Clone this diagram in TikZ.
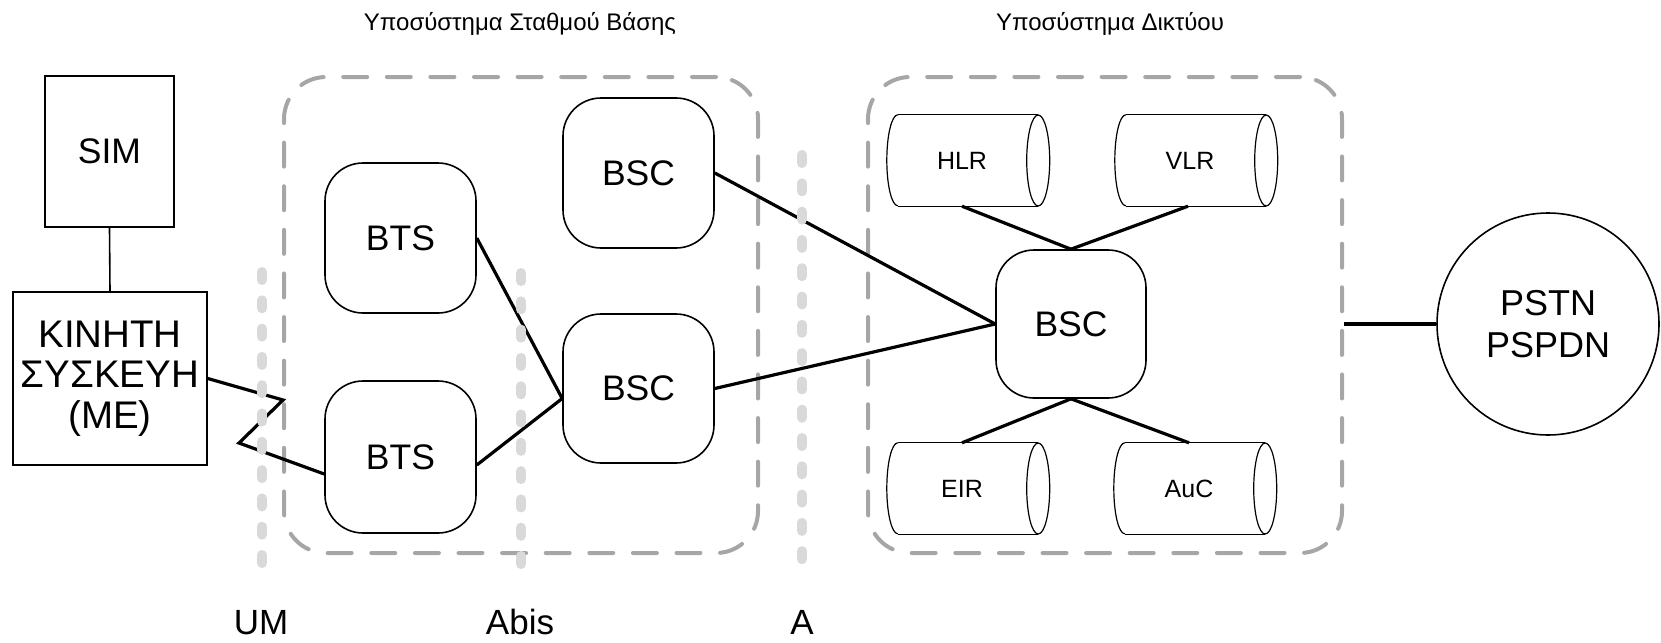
\documentclass[tikz,border=0pt]{standalone}
\usepackage{fontspec}
\setmainfont{Liberation Sans}
\usetikzlibrary{calc}
\definecolor{dashgray}{HTML}{A6A6A6}
\definecolor{dotgray}{HTML}{D9D9D9}
\begin{document}
\begin{tikzpicture}[x=1pt,y=1pt,
  big/.style={font=\fontsize{35.5}{40}\selectfont},
  sq/.style={draw,line width=1.6pt,inner sep=0pt,align=center,big},
  rbox/.style={draw,line width=1.6pt,rounded corners=38pt,minimum width=151pt,minimum height=150pt,inner sep=0pt,big},
  grp/.style={draw=dashgray,line width=4pt,dash pattern=on 24pt off 19.6pt,line cap=round,rounded corners=42pt,minimum width=474pt,minimum height=476pt,inner sep=0pt},
  iface/.style={draw=dotgray,line width=9.5pt,line cap=round,dash pattern=on 8.5pt off 19.8pt},
  conn/.style={line width=3.2pt},
  cyl/.style={inner sep=0pt,minimum width=140pt,minimum height=91pt,font=\fontsize{25}{28}\selectfont},
  cylline/.style={line width=1.2pt},
  title/.style={font=\fontsize{24}{28}\selectfont,anchor=base},
  lbl/.style={font=\fontsize{35}{40}\selectfont,anchor=base}
]
\useasboundingbox (0,0) rectangle (1661,-642);

% group boxes
\node[grp] (bss) at (521,-315) {};
\node[grp] (nss) at (1105,-315) {};
\node[title] (tbss) at (520,-31) {Υποσύστημα Σταθμού Βάσης};
\node[title] (tnss) at (1110,-31) {Υποσύστημα Δικτύου};

% mobile station
\node[sq,minimum width=129pt,minimum height=151pt] (sim) at (109.5,-151.5) {SIM};
\node[sq,minimum width=194pt,minimum height=173pt,font=\fontsize{38.5}{40.7}\selectfont] (me) at (110,-378.5) {ΚΙΝΗΤΗ\\ΣΥΣΚΕΥΗ\\(ME)};

% BSS
\node[rbox] (bts1) at (400.5,-238) {BTS};
\node[rbox,minimum height=152pt] (bts2) at (400.5,-457) {BTS};
\node[rbox] (bsc1) at (638.5,-173) {BSC};
\node[rbox,minimum height=149pt] (bsc2) at (638.5,-388.5) {BSC};

% NSS
\node[rbox,minimum width=150pt,minimum height=148pt] (bscc) at (1071,-324) {BSC};
\node[cyl] (hlr) at (962,-160.5) {HLR};
\node[cyl] (vlr) at (1190,-160.5) {VLR};
\node[cyl] (eir) at (962,-488.5) {EIR};
\node[cyl] (auc) at (1189,-488.5) {AuC};
\foreach \n in {hlr,vlr,eir,auc}{
  \draw[cylline] ([xshift=6pt]\n.north west) -- ([xshift=6pt]\n.north east) ([xshift=6pt]\n.south west) -- ([xshift=6pt]\n.south east);
  \draw[cylline] ([xshift=6pt]\n.east) ellipse [x radius=11.5, y radius=45.5];
  \draw[cylline] ([xshift=6pt]\n.north west) arc [start angle=90, end angle=270, x radius=11, y radius=45.5];
}

% PSTN
\node[draw,circle,line width=1.6pt,minimum size=222pt,inner sep=0pt,align=center,font=\fontsize{36}{42.7}\selectfont] (pstn) at (1548,-324) {PSTN\\PSPDN};

% connectors
\draw[line width=1.6pt] (sim.south) -- (me.north);
\draw[conn] (me.east) -- (283,-400) -- (239,-443) -- ([yshift=-17pt]bts2.west);
\draw[conn] (bts1.east) -- ([yshift=-10pt]bsc2.west);
\draw[conn] ([yshift=-8pt]bts2.east) -- ([yshift=-10pt]bsc2.west);
\draw[conn] (bsc1.east) -- (bscc.west);
\draw[conn] (bsc2.east) -- (bscc.west);
\draw[conn] (hlr.south) -- (bscc.north);
\draw[conn] ([xshift=-2pt]vlr.south) -- (bscc.north);
\draw[conn] (eir.north) -- (bscc.south);
\draw[conn] (auc.north) -- (bscc.south);
\coordinate (nssr) at (nss.east |- pstn.west);
\draw[conn] (nssr) -- (pstn.west);

% interfaces
\coordinate (umtop) at (262,-271.75);
\coordinate (umbot) at (262,-569);
\coordinate (abtop) at (521,-272.75);
\coordinate (abbot) at (521,-569);
\coordinate (atop) at (802,-154.75);
\coordinate (abot) at (802,-569);
\draw[iface] (umtop) -- (umbot);
\draw[iface] (abtop) -- (abbot);
\draw[iface] (atop) -- (abot);
\node[lbl] (um) at (261,-634) {UM};
\node[lbl] (abis) at (520,-634) {Abis};
\node[lbl] (a) at (802,-634) {A};
\end{tikzpicture}
\end{document}
